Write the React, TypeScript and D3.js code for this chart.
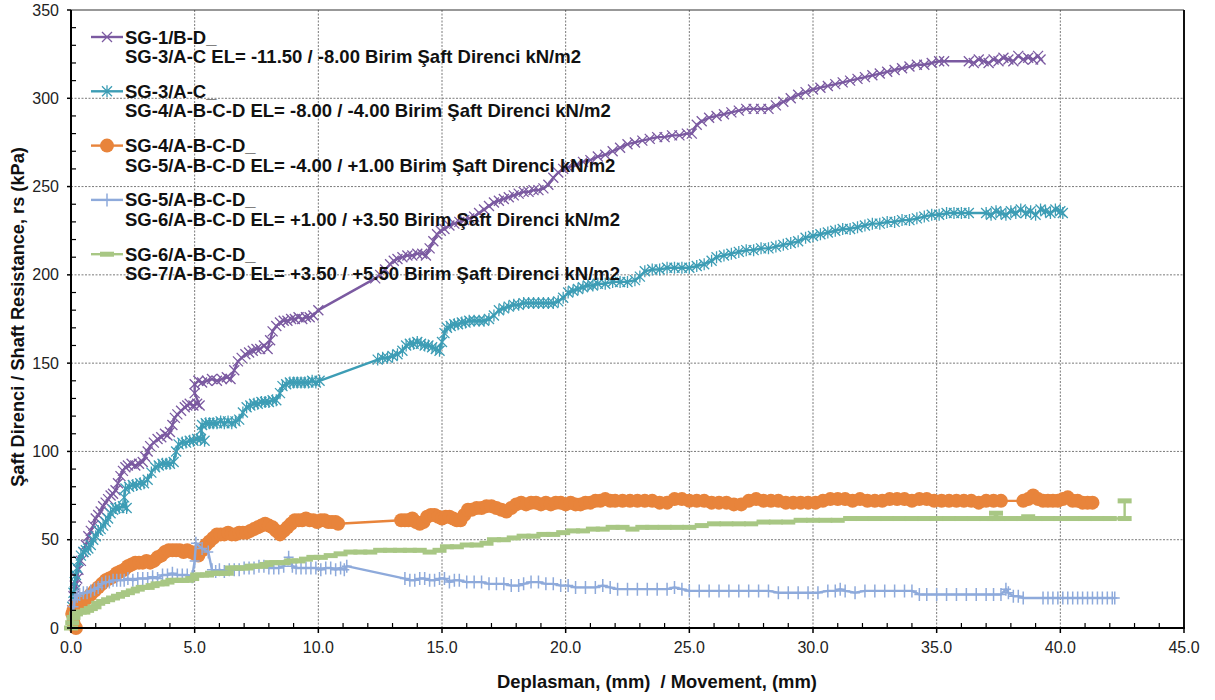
import React from "react";
import * as d3 from "d3";

// ---- data: [movement (mm), shaft resistance (kPa)] ----
const sg1Points: [number, number][] = [
  [0.05,10],[0.1,18],[0.15,24],[0.2,22],[0.25,28],[0.3,33],[0.4,38],[0.5,43],[0.6,47],[0.7,52],[0.8,55],[0.9,58],
  [1.0,62],[1.1,64],[1.2,66],[1.3,69],[1.4,71],[1.5,73],[1.6,75],[1.7,76],[1.8,78],[1.9,82],[2.0,86],[2.1,89],
  [2.2,91],[2.3,92],[2.45,93],[2.6,92],[2.75,93],[2.9,94],[3.0,97],[3.1,100],[3.2,103],[3.35,105],[3.5,107],
  [3.65,108],[3.8,110],[3.9,109],[4.0,111],[4.1,115],[4.2,119],[4.3,121],[4.45,123],[4.6,125],[4.7,126],[4.8,127],
  [4.95,126],[5.1,127],[5.2,126],[5.0,133],[5.0,138],[5.15,140],[5.3,139],[5.5,140],[5.7,141],[5.9,140],[6.1,141],
  [6.3,142],[6.45,141],[6.6,146],[6.75,151],[6.9,153],[7.05,155],[7.2,156],[7.35,157],[7.5,158],[7.65,158],[7.8,160],
  [7.95,158],[8.05,163],[8.15,168],[8.3,171],[8.45,173],[8.6,174],[8.75,174],[8.9,175],[9.05,175],[9.2,176],[9.35,175],
  [9.5,176],[9.65,176],[9.8,177],[10.0,180],[12.3,198],[12.5,200],[12.7,203],[12.9,206],[13.05,208],[13.2,209],
  [13.4,210],[13.6,211],[13.8,211],[14.0,212],[14.2,212],[14.35,211],[14.5,215],[14.65,219],[14.8,223],[14.95,225],
  [15.1,226],[15.3,228],[15.5,229],[15.7,230],[15.9,231],[16.1,232],[16.3,233],[16.5,235],[16.7,237],[16.9,239],
  [17.1,241],[17.3,242],[17.5,243],[17.7,244],[17.9,245],[18.1,246],[18.3,247],[18.5,247],[18.7,248],[18.9,248],
  [19.1,249],[19.3,251],[19.5,255],[19.7,258],[19.9,260],[20.1,261],[20.4,262],[20.7,264],[21.0,265],[21.3,267],
  [21.6,268],[21.9,270],[22.2,272],[22.5,274],[22.8,275],[23.1,276],[23.4,277],[23.7,278],[24.0,278],[24.3,279],
  [24.6,279],[24.9,280],[25.1,280],[25.3,285],[25.5,287],[25.8,289],[26.1,290],[26.4,291],[26.7,292],[27.0,293],
  [27.3,294],[27.6,294],[27.9,294],[28.2,294],[28.5,296],[28.8,298],[29.1,300],[29.4,302],[29.7,303.5],[30.0,305],
  [30.3,306],[30.6,307],[30.9,308],[31.2,309],[31.5,310],[31.8,311],[32.1,312],[32.4,313],[32.7,314],[33.0,315],
  [33.3,316],[33.6,317],[33.9,318],[34.2,319],[34.5,319],[34.8,320],[35.1,321],[35.3,321],[36.3,321],[36.5,320],
  [36.7,322],[36.9,321],[37.1,320],[37.3,322],[37.5,321],[37.7,323],[37.9,322],[38.1,321],[38.3,324],[38.5,322],
  [38.7,323],[38.9,322],[39.1,324],[39.2,322],
];

const sg3Points: [number, number][] = [
  [0.05,12],[0.1,20],[0.15,26],[0.2,30],[0.25,34],[0.3,38],[0.4,41],[0.5,43],[0.6,44],[0.7,45],[0.8,47],[0.9,50],
  [1.0,52],[1.1,55],[1.2,56],[1.3,58],[1.4,60],[1.5,62],[1.6,65],[1.7,67],[1.8,68],[1.95,68],[2.1,69],[2.25,68],
  [2.15,74],[2.2,79],[2.35,80],[2.5,81],[2.65,81],[2.8,82],[2.95,82],[3.1,84],[3.25,88],[3.4,91],[3.55,92],[3.7,93],
  [3.85,93],[4.0,93],[4.15,94],[4.25,100],[4.35,104],[4.5,105],[4.65,105],[4.8,106],[4.95,106],[5.1,107],[5.25,107],
  [5.4,106],[5.25,112],[5.3,115],[5.45,116],[5.6,116],[5.75,116],[5.9,116],[6.05,117],[6.2,116],[6.35,117],[6.5,116],
  [6.65,117],[6.8,118],[6.95,122],[7.1,125],[7.25,126],[7.4,127],[7.55,127],[7.7,128],[7.85,128],[8.0,128],[8.15,129],
  [8.3,129],[8.45,133],[8.55,137],[8.7,138],[8.85,139],[9.0,139],[9.15,139],[9.3,139],[9.45,139],[9.6,139],[9.75,140],
  [9.9,139],[10.05,140],[12.4,152],[12.6,153],[12.8,153],[13.0,154],[13.2,155],[13.4,157],[13.55,160],[13.7,161],
  [13.85,161],[14.0,162],[14.15,161],[14.3,160],[14.45,160],[14.6,159],[14.75,158],[14.9,157],[15.0,162],[15.1,167],
  [15.2,170],[15.35,171],[15.5,172],[15.65,172],[15.8,173],[15.95,173],[16.1,174],[16.3,174],[16.5,174],[16.7,174],
  [16.9,175],[17.1,177],[17.3,180],[17.5,181],[17.7,182],[17.9,183],[18.1,183],[18.3,184],[18.5,184],[18.7,184],
  [18.9,184],[19.1,184],[19.3,184],[19.5,184],[19.7,185],[19.9,187],[20.1,190],[20.3,191],[20.5,192],[20.7,193],
  [20.9,194],[21.1,194],[21.3,195],[21.6,195],[21.9,196],[22.2,196],[22.5,196],[22.8,197],[23.0,199],[23.2,202],
  [23.5,203],[23.8,203],[24.1,204],[24.4,204],[24.7,204],[25.0,204],[25.3,205],[25.6,206],[25.9,208],[26.1,210],
  [26.4,211],[26.7,212],[27.0,213],[27.3,214],[27.6,214],[27.9,215],[28.2,215],[28.5,216],[28.8,217],[29.1,218],
  [29.4,219],[29.7,221],[30.0,222],[30.3,223],[30.6,224],[30.9,225],[31.2,226],[31.5,226],[31.8,227],[32.1,228],
  [32.4,229],[32.7,229],[33.0,230],[33.3,230],[33.6,231],[33.9,231],[34.2,232],[34.5,233],[34.8,234],[35.1,234],
  [35.4,235],[35.7,235],[36.0,235],[36.3,235],[37.0,235],[37.2,234],[37.4,236],[37.6,235],[37.8,234],[38.0,236],
  [38.2,235],[38.4,237],[38.6,235],[38.8,236],[39.0,234],[39.2,237],[39.4,236],[39.6,235],[39.8,237],[40.0,236],
  [40.1,235],
];

const sg4Points: [number, number][] = [
  [0.2,0],[0.1,3],[0.05,8],[0.1,10],[0.2,12],[0.35,13],[0.5,15],[0.65,17],[0.8,19],[0.95,21],[1.1,23],[1.25,25],
  [1.4,27],[1.55,28],[1.7,29],[1.85,31],[2.0,32],[2.15,33],[2.3,35],[2.45,36],[2.6,37],[2.75,37],[2.9,37],[3.05,38],
  [3.2,37],[3.35,38],[3.5,40],[3.65,41],[3.8,43],[3.95,44],[4.1,44],[4.25,44],[4.4,44],[4.55,43],[4.7,44],[4.85,43],
  [5.0,42],[5.15,41],[5.3,44],[5.45,47],[5.6,49],[5.75,51],[5.9,53],[6.05,53],[6.2,53],[6.35,54],[6.5,53],[6.65,53],
  [6.8,54],[6.95,54],[7.1,54],[7.25,55],[7.4,56],[7.55,57],[7.7,58],[7.85,59],[8.0,58],[8.15,57],[8.3,55],[8.45,53],
  [8.6,55],[8.75,57],[8.9,59],[9.05,61],[9.2,61],[9.35,61],[9.5,62],[9.65,61],[9.8,61],[9.95,60],[10.1,61],[10.25,61],
  [10.4,60],[10.55,60],[10.7,60],[10.8,59],[13.35,61],[13.5,61],[13.65,61],[13.8,62],[13.95,60],[14.1,59],[14.25,60],
  [14.4,63],[14.55,64],[14.7,64],[14.85,63],[15.0,62],[15.15,63],[15.3,63],[15.45,62],[15.6,61],[15.75,61],[15.9,64],
  [16.05,67],[16.2,67],[16.4,68],[16.6,68],[16.8,69],[17.0,69],[17.2,68],[17.4,67],[17.6,66],[17.8,68],[18.0,70],
  [18.2,71],[18.4,70],[18.6,71],[18.8,71],[19.0,70],[19.2,71],[19.4,70],[19.6,71],[19.8,71],[20.0,70],[20.2,71],
  [20.4,70],[20.6,70],[20.8,71],[21.0,71],[21.2,72],[21.4,72],[21.6,73],[21.8,72],[22.0,72],[22.3,72],[22.6,72],
  [22.9,72],[23.2,72],[23.5,72],[23.8,71],[24.1,71],[24.4,73],[24.7,73],[25.0,72],[25.3,72],[25.6,72],[25.9,71],
  [26.2,71],[26.5,71],[26.8,70],[27.1,70],[27.4,72],[27.7,73],[28.0,72],[28.3,72],[28.6,72],[28.9,71],[29.2,71],
  [29.5,71],[29.8,71],[30.1,71],[30.4,72],[30.7,73],[31.0,73],[31.3,73],[31.6,72],[31.9,73],[32.2,72],[32.5,72],
  [32.8,72],[33.1,73],[33.4,73],[33.7,73],[34.0,72],[34.3,73],[34.6,73],[34.9,72],[35.2,72],[35.5,72],[35.8,72],
  [36.1,72],[36.4,72],[36.7,71],[37.0,72],[37.3,72],[37.6,72],[38.5,72],[38.7,73],[38.9,75],[39.1,73],[39.3,72],
  [39.5,72],[39.7,72],[39.9,72],[40.1,73],[40.3,74],[40.5,72],[40.7,72],[40.9,71],[41.1,71],[41.3,71],
];

const sg5Points: [number, number][] = [
  [0.05,5],[0.1,12],[0.15,16],[0.25,18],[0.35,19],[0.5,20],[0.65,20],[0.8,21],[0.95,22],[1.1,23],[1.25,25],[1.4,26],
  [1.55,26],[1.7,27],[1.85,27],[2.0,27],[2.15,27],[2.3,28],[2.5,27],[2.7,28],[2.9,28],[3.1,28],[3.3,29],[3.5,28],
  [3.7,30],[3.9,30],[4.1,31],[4.3,30],[4.5,30],[4.7,30],[4.9,29],[5.0,38],[5.05,48],[5.3,45],[5.55,43],[5.7,33],
  [5.85,32],[6.0,33],[6.2,32],[6.4,33],[6.6,33],[6.8,33],[7.0,34],[7.2,34],[7.4,34],[7.6,35],[7.8,35],[8.0,34],
  [8.2,34],[8.4,34],[8.6,35],[8.8,40],[8.95,35],[9.1,34],[9.3,34],[9.5,34],[9.7,34],[9.9,34],[10.1,33],[10.3,34],
  [10.5,34],[10.7,33],[10.9,34],[11.05,33],[11.15,35],[13.5,28],[13.7,27],[13.9,27],[14.1,28],[14.3,28],[14.5,27],
  [14.7,27],[14.9,28],[15.1,28],[15.3,26],[15.5,27],[15.7,27],[16.0,26],[16.3,26],[16.6,26],[16.9,25],[17.2,25],
  [17.5,25],[17.8,24],[18.1,24],[18.3,25],[18.6,26],[18.9,26],[19.2,25],[19.5,25],[19.8,24],[20.1,24],[20.4,23],
  [20.8,23],[21.2,23],[21.5,24],[21.8,23],[22.1,22],[22.5,22],[22.9,22],[23.3,22],[23.7,22],[24.1,22],[24.4,23],
  [24.7,22],[25.0,21],[25.4,21],[25.8,21],[26.2,21],[26.6,21],[27.0,21],[27.4,21],[27.8,21],[28.2,21],[28.6,20],
  [29.0,20],[29.4,20],[29.8,20],[30.2,20],[30.6,21],[30.9,21],[31.1,22],[31.3,21],[31.7,20],[32.1,21],[32.5,21],
  [32.9,21],[33.3,21],[33.7,21],[34.0,21],[34.3,19],[34.6,19],[35.0,19],[35.4,19],[35.8,19],[36.2,19],[36.6,19],
  [37.0,19],[37.3,19],[37.6,19],[37.8,22],[37.9,20],[38.1,18],[38.3,18],[38.5,17],[39.3,17],[39.5,17],[39.7,17],
  [39.9,17],[40.1,17],[40.3,17],[40.5,17],[40.7,17],[40.9,17],[41.1,17],[41.3,17],[41.5,17],[41.7,17],[41.9,17],
  [42.1,17],[42.2,17],
];

const sg6Points: [number, number][] = [
  [0.0,0],[0.05,3],[0.1,6],[0.2,8],[0.35,9],[0.5,9],[0.65,10],[0.8,11],[0.95,12],[1.1,14],[1.3,15],[1.5,16],[1.7,17],
  [1.9,18],[2.1,19],[2.3,20],[2.5,21],[2.7,22],[2.9,23],[3.1,23],[3.3,24],[3.5,25],[3.7,25],[3.9,26],[4.1,27],
  [4.3,27],[4.5,27],[4.7,27],[4.9,28],[5.1,30],[5.3,30],[5.5,30],[5.7,31],[5.9,31],[6.1,31],[6.3,31],[6.5,34],
  [6.7,34],[6.9,34],[7.1,34],[7.3,35],[7.5,35],[7.7,35],[7.9,36],[8.1,37],[8.3,37],[8.6,37],[8.9,38],[9.2,38],
  [9.5,39],[9.8,40],[10.1,40],[10.5,41],[10.9,42],[11.3,43],[11.7,43],[12.1,43],[12.5,44],[12.9,44],[13.3,44],
  [13.7,44],[14.1,44],[14.5,43],[14.9,44],[15.2,46],[15.6,46],[16.0,47],[16.4,47],[16.8,48],[17.1,50],[17.5,50],
  [17.9,51],[18.3,52],[18.7,52],[19.1,53],[19.5,53],[19.9,54],[20.3,55],[20.7,55],[21.1,56],[21.5,56],[21.9,57],
  [22.3,57],[22.7,56],[23.1,57],[23.5,57],[24.0,57],[24.5,57],[25.0,57],[25.5,58],[26.0,59],[26.5,59],[27.0,59],
  [27.5,59],[28.0,60],[28.5,60],[29.0,60],[29.5,61],[30.0,61],[30.5,61],[31.0,61],[31.5,62],[32.0,62],[32.5,62],
  [33.0,62],[33.5,62],[34.0,62],[34.5,62],[35.0,62],[35.5,62],[36.0,62],[36.5,62],[37.0,62],[37.3,62],[37.4,65],
  [37.5,62],[38.0,62],[38.5,62],[38.7,63],[39.0,62],[39.5,62],[40.0,62],[40.5,62],[41.0,62],[41.5,62],[42.0,62],
  [42.6,62],[42.6,72],
];

const seriesNames = ["SG-1/B-D_", "SG-3/A-C_", "SG-4/A-B-C-D_", "SG-5/A-B-C-D_", "SG-6/A-B-C-D_"];
const seriesSubtitles = [
  "SG-3/A-C EL= -11.50 / -8.00 Birim Şaft Direnci kN/m2",
  "SG-4/A-B-C-D EL= -8.00 / -4.00 Birim Şaft Direnci kN/m2",
  "SG-5/A-B-C-D EL= -4.00 / +1.00 Birim Şaft Direnci kN/m2",
  "SG-6/A-B-C-D EL= +1.00 / +3.50 Birim Şaft Direnci kN/m2",
  "SG-7/A-B-C-D EL= +3.50 / +5.50 Birim Şaft Direnci kN/m2",
];
const xTickValues = [0, 5, 10, 15, 20, 25, 30, 35, 40, 45];
const yTickValues = [0, 50, 100, 150, 200, 250, 300, 350];
const xTitle = "Deplasman, (mm)  / Movement, (mm)";
const yTitle = "Şaft Direnci / Shaft Resistance, rs (kPa)";

type MarkerKind = "x" | "star" | "circle" | "plus" | "dash";
const seriesStyles: { color: string; marker: MarkerKind }[] = [
  { color: "#7b5aa1", marker: "x" },
  { color: "#3d9db5", marker: "star" },
  { color: "#e8843b", marker: "circle" },
  { color: "#8eaadb", marker: "plus" },
  { color: "#a8c784", marker: "dash" },
];
const seriesData = [sg1Points, sg3Points, sg4Points, sg5Points, sg6Points];

const FONT = "'Liberation Sans', Arial, sans-serif";
const W = 1215;
const H = 700;
const M = { left: 71, right: 1184, top: 10, bottom: 628 };

function Marker({ kind, color, x, y }: { kind: MarkerKind; color: string; x: number; y: number }) {
  const t = `translate(${x},${y})`;
  switch (kind) {
    case "x":
      return <path transform={t} d="M-5,-5L5,5M-5,5L5,-5" stroke={color} strokeWidth={1.3} fill="none" />;
    case "star":
      return <path transform={t} d="M-5,-5L5,5M-5,5L5,-5M0,-6L0,6" stroke={color} strokeWidth={1.3} fill="none" />;
    case "circle":
      return <circle cx={x} cy={y} r={7} fill={color} />;
    case "plus":
      return <path transform={t} d="M-5,0L5,0M0,-6.5L0,6.5" stroke={color} strokeWidth={1.5} fill="none" />;
    case "dash":
      return <rect x={x - 7} y={y - 2.5} width={14} height={5} fill={color} />;
  }
}

export default function App() {
  const x = d3.scaleLinear().domain([0, 45]).range([M.left, M.right]);
  const y = d3.scaleLinear().domain([0, 350]).range([M.bottom, M.top]);
  const line = d3
    .line<[number, number]>()
    .x((d) => x(d[0]))
    .y((d) => y(d[1]));
  const fmtX = d3.format(".1f");
  const xMinor = d3.range(0, 45.001, 1).filter((v) => v % 5 !== 0);
  const yMinor = d3.range(0, 350.001, 10).filter((v) => v % 50 !== 0);

  const legendY0 = 37;
  const legendStep = 54.3;

  return (
    <svg
      width={W}
      height={H}
      style={{ position: "absolute", left: 0, top: 0, background: "#fff" }}
      fontFamily={FONT}
    >
      <rect width={W} height={H} fill="#fff" />
      {/* grid */}
      <g stroke="#7a7a7a" strokeWidth={1} strokeDasharray="2,1.5">
        {xTickValues
          .filter((v) => v > 0 && v < 45)
          .map((v) => (
            <line key={"gx" + v} x1={x(v)} x2={x(v)} y1={M.top} y2={M.bottom} />
          ))}
        {yTickValues
          .filter((v) => v > 0 && v < 350)
          .map((v) => (
            <line key={"gy" + v} x1={M.left} x2={M.right} y1={y(v)} y2={y(v)} />
          ))}
      </g>
      {/* plot frame */}
      <line x1={M.left} x2={M.right} y1={M.top} y2={M.top} stroke="#333" strokeWidth={1.2} />
      <line x1={M.right} x2={M.right} y1={M.top} y2={M.bottom} stroke="#111" strokeWidth={2} />

      {/* series */}
      {seriesData.map((pts, i) => {
        const s = seriesStyles[i];
        return (
          <g key={"s" + i}>
            <path d={line(pts) || ""} fill="none" stroke={s.color} strokeWidth={2.4} strokeLinejoin="round" />
            {pts.map((p, j) => (
              <Marker key={j} kind={s.marker} color={s.color} x={x(p[0])} y={y(p[1])} />
            ))}
          </g>
        );
      })}

      {/* axes */}
      <line x1={M.left} x2={M.left} y1={M.top} y2={M.bottom + 1} stroke="#000" strokeWidth={2} />
      <line x1={M.left - 1} x2={M.right + 1} y1={M.bottom} y2={M.bottom} stroke="#000" strokeWidth={2} />
      {xTickValues.map((v) => (
        <g key={"xt" + v}>
          <line x1={x(v)} x2={x(v)} y1={M.bottom} y2={M.bottom + 5} stroke="#000" strokeWidth={1.5} />
          <text x={x(v)} y={M.bottom + 25} textAnchor="middle" fontSize={16} fill="#222">
            {fmtX(v)}
          </text>
        </g>
      ))}
      {xMinor.map((v) => (
        <line key={"xm" + v} x1={x(v)} x2={x(v)} y1={M.bottom} y2={M.bottom - 5} stroke="#000" strokeWidth={1.2} />
      ))}
      {yTickValues.map((v) => (
        <g key={"yt" + v}>
          <line x1={M.left - 4} x2={M.left} y1={y(v)} y2={y(v)} stroke="#000" strokeWidth={1.5} />
          <text x={M.left - 12} y={y(v) + 5.5} textAnchor="end" fontSize={16} fill="#222">
            {v}
          </text>
        </g>
      ))}
      {yMinor.map((v) => (
        <line key={"ym" + v} x1={M.left} x2={M.left + 5} y1={y(v)} y2={y(v)} stroke="#000" strokeWidth={1.2} />
      ))}

      {/* axis titles */}
      <text
        x={657}
        y={688}
        textAnchor="middle"
        fontSize={18.4}
        fontWeight="bold"
        fill="#111"
        style={{ whiteSpace: "pre" }}
      >
        {xTitle}
      </text>
      <text
        transform={`translate(24,${(M.top + M.bottom) / 2 - 2}) rotate(-90)`}
        textAnchor="middle"
        fontSize={18.2}
        fontWeight="bold"
        fill="#111"
      >
        {yTitle}
      </text>

      {/* legend */}
      {seriesNames.map((name, i) => {
        const s = seriesStyles[i];
        const cy = legendY0 + i * legendStep;
        return (
          <g key={"lg" + i}>
            <line x1={91} x2={123} y1={cy} y2={cy} stroke={s.color} strokeWidth={2.4} />
            <Marker kind={s.marker} color={s.color} x={107} y={cy} />
            <text x={125} y={cy + 6.5} fontSize={18.5} fontWeight="bold" fill="#111">
              {name}
            </text>
            <text x={125} y={cy + 26} fontSize={18.5} fontWeight="bold" fill="#111">
              {seriesSubtitles[i]}
            </text>
          </g>
        );
      })}
    </svg>
  );
}
